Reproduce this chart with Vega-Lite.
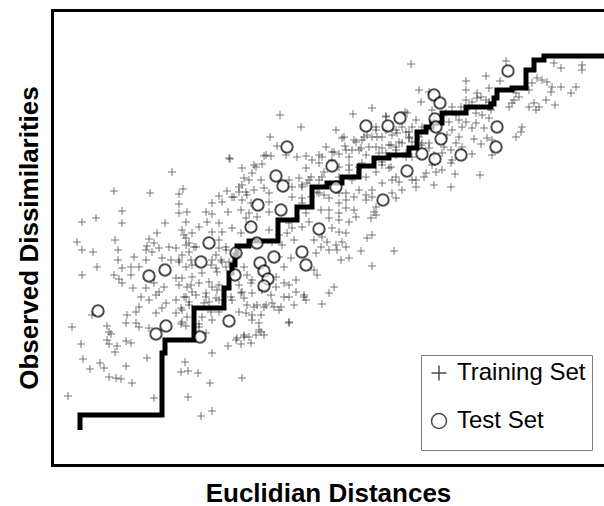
{
  "$schema": "https://vega.github.io/schema/vega-lite/v6.json",
  "width": 552,
  "height": 455,
  "autosize": {"type": "none"},
  "padding": {"left": 52, "top": 10, "right": 0, "bottom": 41},
  "background": "white",
  "config": {
    "view": {"stroke": null},
    "font": "Liberation Sans"
  },
  "datasets": {
    "train": [
      {"d":177,"o":307},
      {"d":359,"o":401},{"d":367,"o":375},{"d":369,"o":363},{"d":377,"o":373},{"d":320,"o":357},{"d":301,"o":351},{"d":334,"o":348},{"d":353,"o":353},{"d":355,"o":352},{"d":228,"o":350},{"d":249,"o":338},{"d":284,"o":335},{"d":218,"o":328},{"d":225,"o":319},{"d":292,"o":328},{"d":293,"o":319},{"d":304,"o":323},{"d":310,"o":325},{"d":315,"o":330},{"d":320,"o":328},{"d":325,"o":328},{"d":324,"o":335},{"d":334,"o":335},{"d":340,"o":330},{"d":345,"o":332},{"d":350,"o":338},{"d":354,"o":333},{"d":357,"o":328},{"d":360,"o":338},{"d":369,"o":332},{"d":374,"o":335},{"d":380,"o":338},{"d":300,"o":315},{"d":309,"o":317},{"d":317,"o":318},{"d":324,"o":318},{"d":330,"o":317},{"d":339,"o":320},{"d":344,"o":318},{"d":350,"o":322},{"d":360,"o":323},{"d":369,"o":320},{"d":377,"o":322},{"d":212,"o":309},{"d":219,"o":309},{"d":234,"o":310},{"d":245,"o":308},{"d":254,"o":309},{"d":267,"o":310},{"d":274,"o":318},{"d":282,"o":313},{"d":287,"o":311},{"d":327,"o":312},{"d":334,"o":312},{"d":344,"o":310},{"d":354,"o":312},{"d":360,"o":308},{"d":382,"o":310},
      {"d":454,"o":404},{"d":502,"o":402},{"d":509,"o":397},{"d":530,"o":400},{"d":530,"o":395},{"d":434,"o":389},{"d":414,"o":384},{"d":448,"o":384},{"d":414,"o":375},{"d":437,"o":377},{"d":425,"o":372},{"d":429,"o":368},{"d":485,"o":387},{"d":490,"o":385},{"d":495,"o":383},{"d":480,"o":382},{"d":477,"o":375},{"d":500,"o":378},{"d":509,"o":378},{"d":524,"o":378},{"d":519,"o":372},{"d":499,"o":373},{"d":464,"o":372},{"d":467,"o":368},{"d":462,"o":365},{"d":457,"o":358},{"d":460,"o":362},{"d":477,"o":358},{"d":482,"o":362},{"d":484,"o":355},{"d":487,"o":358},{"d":494,"o":365},{"d":503,"o":360},{"d":414,"o":365},{"d":420,"o":363},{"d":425,"o":367},{"d":434,"o":365},{"d":437,"o":363},{"d":400,"o":358},{"d":409,"o":358},{"d":417,"o":358},{"d":380,"o":355},{"d":394,"o":352},{"d":404,"o":350},{"d":424,"o":352},{"d":430,"o":350},{"d":437,"o":358},{"d":439,"o":355},{"d":382,"o":345},{"d":397,"o":343},{"d":407,"o":345},{"d":414,"o":343},{"d":424,"o":342},{"d":437,"o":347},{"d":400,"o":335},{"d":410,"o":338},{"d":420,"o":337},{"d":432,"o":337},{"d":470,"o":338},{"d":469,"o":333},{"d":464,"o":328},{"d":395,"o":330},{"d":407,"o":328},{"d":422,"o":326},{"d":429,"o":321},{"d":435,"o":327},{"d":440,"o":325},{"d":404,"o":322},{"d":410,"o":318},{"d":392,"o":318},{"d":399,"o":315},{"d":370,"o":322},{"d":377,"o":317},{"d":420,"o":311},{"d":440,"o":310},{"d":390,"o":312},
      {"d":399,"o":302},{"d":400,"o":305},{"d":384,"o":293},{"d":390,"o":295},{"d":403,"o":291},{"d":428,"o":290},{"d":399,"o":278},{"d":380,"o":300},
      {"d":120,"o":293},{"d":62,"o":274},{"d":98,"o":272},{"d":131,"o":276},{"d":127,"o":271},{"d":167,"o":269},{"d":175,"o":274},{"d":170,"o":263},{"d":160,"o":262},{"d":180,"o":268},{"d":70,"o":254},{"d":127,"o":261},{"d":127,"o":252},{"d":135,"o":253},{"d":154,"o":253},{"d":160,"o":251},{"d":176,"o":253},{"d":30,"o":243},{"d":44,"o":247},{"d":70,"o":242},{"d":113,"o":242},{"d":134,"o":243},{"d":147,"o":238},{"d":155,"o":243},{"d":167,"o":242},{"d":130,"o":235},{"d":140,"o":232},{"d":160,"o":233},{"d":170,"o":233},{"d":180,"o":237},{"d":105,"o":232},{"d":97,"o":226},{"d":102,"o":222},{"d":95,"o":219},{"d":134,"o":227},{"d":124,"o":217},{"d":117,"o":218},{"d":137,"o":222},{"d":144,"o":218},{"d":167,"o":225},{"d":174,"o":218},{"d":25,"o":223},{"d":63,"o":225},{"d":30,"o":215},{"d":41,"o":213},{"d":66,"o":215},{"d":94,"o":215},{"d":100,"o":213},{"d":107,"o":217},{"d":82,"o":208},{"d":66,"o":205},{"d":45,"o":198},{"d":70,"o":197},{"d":79,"o":198},{"d":87,"o":198},{"d":94,"o":205},{"d":110,"o":207},{"d":119,"o":205},{"d":127,"o":205},{"d":134,"o":198},{"d":140,"o":200},{"d":160,"o":205},{"d":169,"o":205},{"d":164,"o":197},{"d":174,"o":198},{"d":62,"o":190},{"d":67,"o":186},{"d":30,"o":190},{"d":70,"o":182},{"d":79,"o":190},{"d":81,"o":177},{"d":94,"o":177},{"d":102,"o":182},{"d":107,"o":173},{"d":112,"o":178},{"d":124,"o":187},{"d":127,"o":180},{"d":139,"o":180},{"d":147,"o":182},{"d":157,"o":183},{"d":167,"o":180},{"d":140,"o":173},{"d":134,"o":168},{"d":154,"o":168},{"d":160,"o":178},{"d":179,"o":168},{"d":89,"o":168},{"d":97,"o":165},{"d":104,"o":170},{"d":114,"o":162},{"d":124,"o":165},{"d":137,"o":160},{"d":152,"o":162},{"d":167,"o":165},{"d":87,"o":158},{"d":104,"o":152},{"d":110,"o":157},{"d":75,"o":150},{"d":84,"o":153},{"d":124,"o":152},{"d":130,"o":155},{"d":135,"o":148},{"d":167,"o":153},{"d":40,"o":150},
      {"d":20,"o":138},{"d":55,"o":139},{"d":57,"o":133},{"d":59,"o":131},{"d":74,"o":142},{"d":84,"o":142},{"d":87,"o":138},{"d":97,"o":137},{"d":29,"o":121},{"d":55,"o":125},{"d":57,"o":121},{"d":65,"o":119},{"d":74,"o":124},{"d":79,"o":122},{"d":63,"o":113},{"d":31,"o":106},{"d":48,"o":102},{"d":52,"o":97},{"d":38,"o":96},{"d":74,"o":99},{"d":95,"o":107},{"d":57,"o":88},{"d":64,"o":87},{"d":69,"o":86},{"d":80,"o":82},{"d":16,"o":69},{"d":102,"o":67},{"d":129,"o":141},{"d":134,"o":139},{"d":147,"o":141},{"d":154,"o":132},{"d":160,"o":112},{"d":176,"o":119},{"d":184,"o":125},{"d":133,"o":103},{"d":129,"o":93},{"d":136,"o":94},{"d":146,"o":92},{"d":158,"o":82},{"d":136,"o":68},{"d":149,"o":49},{"d":160,"o":54},
      {"d":207,"o":142},{"d":237,"o":142},{"d":209,"o":133},{"d":204,"o":130},{"d":212,"o":130},{"d":192,"o":128},{"d":189,"o":121},{"d":199,"o":122},{"d":190,"o":87},
      {"d":202,"o":300},{"d":210,"o":301},{"d":190,"o":297},{"d":200,"o":292},{"d":192,"o":287},{"d":209,"o":285},{"d":187,"o":278},{"d":194,"o":273},{"d":202,"o":275},{"d":212,"o":277},{"d":217,"o":272},{"d":237,"o":285},{"d":247,"o":287},{"d":240,"o":278},{"d":250,"o":280},{"d":255,"o":282},{"d":259,"o":288},{"d":267,"o":285},{"d":272,"o":293},{"d":287,"o":298},{"d":297,"o":300},{"d":307,"o":298},{"d":305,"o":290},{"d":330,"o":300},{"d":339,"o":298},{"d":340,"o":285},{"d":347,"o":283},{"d":360,"o":285},{"d":364,"o":278},{"d":372,"o":288},{"d":382,"o":280},{"d":190,"o":265},{"d":199,"o":262},{"d":217,"o":263},{"d":189,"o":255},{"d":197,"o":252},{"d":205,"o":248},{"d":217,"o":253},{"d":240,"o":268},{"d":250,"o":267},{"d":259,"o":268},{"d":265,"o":273},{"d":272,"o":270},{"d":277,"o":267},{"d":287,"o":272},{"d":294,"o":265},{"d":302,"o":268},{"d":314,"o":270},{"d":320,"o":268},{"d":324,"o":258},{"d":322,"o":253},{"d":302,"o":255},{"d":294,"o":257},{"d":287,"o":252},{"d":277,"o":255},{"d":269,"o":255},{"d":254,"o":252},{"d":244,"o":247},{"d":237,"o":242},{"d":240,"o":237},{"d":250,"o":238},{"d":257,"o":243},{"d":277,"o":247},{"d":287,"o":245},{"d":297,"o":243},{"d":304,"o":248},{"d":319,"o":247},{"d":324,"o":250},{"d":280,"o":237},{"d":287,"o":233},{"d":294,"o":232},{"d":315,"o":227},{"d":320,"o":230},{"d":194,"o":247},{"d":197,"o":240},{"d":189,"o":232},{"d":217,"o":235},{"d":227,"o":230},{"d":235,"o":232},{"d":220,"o":223},{"d":230,"o":220},{"d":242,"o":225},{"d":262,"o":225},{"d":270,"o":228},{"d":275,"o":223},{"d":284,"o":220},{"d":290,"o":223},{"d":269,"o":218},{"d":277,"o":215},{"d":285,"o":215},{"d":294,"o":218},{"d":309,"o":214},{"d":342,"o":214},{"d":297,"o":207},{"d":289,"o":205},{"d":264,"o":212},{"d":239,"o":207},{"d":232,"o":198},{"d":262,"o":195},{"d":265,"o":190},{"d":320,"o":199},{"d":227,"o":208},{"d":224,"o":188},{"d":232,"o":182},{"d":192,"o":198},{"d":195,"o":190},{"d":200,"o":185},{"d":187,"o":180},{"d":190,"o":173},{"d":200,"o":172},{"d":210,"o":175},{"d":219,"o":170},{"d":244,"o":173},{"d":252,"o":168},{"d":192,"o":167},{"d":202,"o":158},{"d":214,"o":160},{"d":222,"o":158},{"d":229,"o":158},{"d":282,"o":178},{"d":277,"o":172},{"d":270,"o":161},{"d":194,"o":152},{"d":200,"o":150},{"d":209,"o":150},
      {"d":132,"o":230},{"d":134,"o":220},{"d":142,"o":218},{"d":130,"o":210},{"d":137,"o":213},{"d":127,"o":203},{"d":139,"o":205},{"d":164,"o":210},{"d":167,"o":217},{"d":174,"o":215},{"d":170,"o":203},{"d":177,"o":203},{"d":159,"o":200},{"d":165,"o":193},{"d":150,"o":192},{"d":140,"o":188},{"d":130,"o":187},{"d":135,"o":178},{"d":165,"o":175},{"d":154,"o":172},{"d":144,"o":170},{"d":132,"o":168},{"d":137,"o":163},{"d":129,"o":157},{"d":157,"o":163},{"d":164,"o":167},{"d":159,"o":153},{"d":150,"o":148},{"d":147,"o":138},{"d":160,"o":145},{"d":130,"o":143},{"d":187,"o":153},{"d":195,"o":160},{"d":205,"o":160},{"d":180,"o":165},{"d":189,"o":172},{"d":199,"o":182},{"d":224,"o":178},{"d":237,"o":180},{"d":237,"o":168},{"d":232,"o":168},{"d":220,"o":162},{"d":212,"o":158},{"d":227,"o":155},{"d":242,"o":160},{"d":254,"o":165},{"d":237,"o":143},{"d":200,"o":145},{"d":207,"o":135},{"d":192,"o":130},{"d":185,"o":127},{"d":197,"o":128},{"d":244,"o":185},{"d":252,"o":170},
      {"d":214,"o":310},{"d":204,"o":298},{"d":178,"o":306},{"d":197,"o":285},{"d":190,"o":280},{"d":187,"o":273},{"d":182,"o":268},{"d":195,"o":270},
      {"d":290,"o":327},{"d":302,"o":325},{"d":312,"o":328},{"d":324,"o":338},{"d":334,"o":349},{"d":364,"o":345},{"d":370,"o":338},{"d":357,"o":333},{"d":344,"o":335},{"d":330,"o":328},{"d":307,"o":315},{"d":294,"o":315},{"d":280,"o":313},{"d":270,"o":308},{"d":260,"o":305},{"d":254,"o":297},{"d":267,"o":302},{"d":280,"o":305},{"d":297,"o":308},{"d":314,"o":310},{"d":337,"o":320},{"d":347,"o":323},{"d":357,"o":327},{"d":367,"o":328},{"d":344,"o":315},{"d":354,"o":308},{"d":330,"o":303},{"d":310,"o":302},{"d":297,"o":295},{"d":287,"o":288},{"d":270,"o":288},{"d":257,"o":285},{"d":250,"o":278},{"d":300,"o":285},{"d":314,"o":288},{"d":324,"o":293},{"d":337,"o":297},{"d":344,"o":288},{"d":330,"o":282},{"d":320,"o":275},{"d":307,"o":275},{"d":294,"o":272},{"d":314,"o":265},{"d":340,"o":272},{"d":350,"o":275},{"d":364,"o":285},{"d":374,"o":292},{"d":267,"o":272},{"d":250,"o":262},{"d":287,"o":262},{"d":344,"o":267}
    ],
    "test": [
      {"d":46,"o":154},{"d":97,"o":189},{"d":113,"o":195},{"d":104,"o":131},{"d":114,"o":139},{"d":148,"o":128},{"d":157,"o":222},{"d":149,"o":203},{"d":177,"o":144},{"d":184,"o":212},{"d":183,"o":190},{"d":199,"o":238},{"d":205,"o":222},{"d":206,"o":260},{"d":208,"o":202},{"d":212,"o":194},{"d":216,"o":186},{"d":212,"o":179},{"d":222,"o":208},{"d":224,"o":289},{"d":231,"o":279},{"d":229,"o":255},{"d":235,"o":318},{"d":250,"o":213},{"d":254,"o":200},{"d":267,"o":236},{"d":280,"o":299},{"d":284,"o":278},{"d":314,"o":339},{"d":336,"o":339},{"d":348,"o":347},{"d":331,"o":265},{"d":355,"o":294},{"d":370,"o":311},{"d":382,"o":370},{"d":388,"o":362},{"d":383,"o":346},{"d":384,"o":338},{"d":389,"o":326},{"d":383,"o":306},{"d":409,"o":310},{"d":445,"o":338},{"d":444,"o":318},{"d":456,"o":394}
    ],
    "fit": [
      {"d":28,"o":35},{"d":28,"o":50},{"d":110,"o":112},{"d":113,"o":125},{"d":142,"o":157},{"d":172,"o":177},{"d":177,"o":192},{"d":180,"o":200},{"d":183,"o":210},{"d":185,"o":219},{"d":197,"o":224},{"d":226,"o":245},{"d":245,"o":258},{"d":260,"o":278},{"d":275,"o":282},{"d":290,"o":288},{"d":307,"o":299},{"d":322,"o":307},{"d":337,"o":310},{"d":357,"o":317},{"d":365,"o":333},{"d":374,"o":338},{"d":380,"o":342},{"d":390,"o":352},{"d":414,"o":358},{"d":439,"o":361},{"d":442,"o":367},{"d":445,"o":375},{"d":460,"o":377},{"d":474,"o":395},{"d":482,"o":405},{"d":492,"o":409},{"d":552,"o":409}
    ]
  },
  "resolve": {"axis": {"x": "independent"}},
  "layer": [
    {
      "data": {"name": "train"},
      "mark": {"type": "point", "filled": false, "stroke": "black", "strokeWidth": 1, "strokeOpacity": 0.75, "size": 64},
      "encoding": {
        "x": {"field": "d", "type": "quantitative",
              "scale": {"domain": [0, 552], "nice": false, "zero": false},
              "axis": {"orient": "bottom", "title": "Euclidian Distances", "labels": false, "ticks": false, "grid": false,
                       "domainColor": "black", "domainWidth": 3, "domainCap": "square",
                       "titleFont": "Liberation Sans", "titleFontSize": 26, "titleFontWeight": "bold", "titleColor": "black", "titlePadding": 15}},
        "y": {"field": "o", "type": "quantitative",
              "scale": {"domain": [0, 455], "nice": false, "zero": false},
              "axis": {"orient": "left", "title": "Observed Dissimilarities", "labels": false, "ticks": false, "grid": false,
                       "domainColor": "black", "domainWidth": 3, "domainCap": "square",
                       "titleFont": "Liberation Sans", "titleFontSize": 26, "titleFontWeight": "bold", "titleColor": "black", "titlePadding": 10}},
        "shape": {"datum": "Training Set",
                  "scale": {"domain": ["Training Set", "Test Set"], "range": ["M-1,0L1,0M0,-1L0,1", "circle"]},
                  "legend": {"orient": "none", "legendX": 369, "legendY": 345,
                             "title": " ", "titleOrient": "bottom", "titleFontSize": 10, "titlePadding": 1,
                             "labelFont": "Liberation Sans", "labelFontSize": 24, "labelColor": "black",
                             "strokeColor": "#808080", "fillColor": "white",
                             "padding": 6, "rowPadding": 24, "labelOffset": 6, "symbolSize": 225,
                             "encode": {"symbols": {
                               "stroke": {"condition": {"test": "datum.value === 'Training Set'", "value": "#000000"}, "value": "#808080"},
                               "strokeOpacity": {"value": 1},
                               "opacity": {"value": 1},
                               "strokeWidth": {"condition": {"test": "datum.value === 'Training Set'", "value": 2.6}, "value": 1},
                               "size": {"condition": {"test": "datum.value === 'Training Set'", "value": 225}, "value": 75},
                               "fill": {"value": "transparent"}}}}}
      }
    },
    {
      "data": {"name": "fit"},
      "mark": {"type": "line", "interpolate": "step-after", "color": "black", "strokeWidth": 5},
      "encoding": {
        "x": {"field": "d", "type": "quantitative",
              "axis": {"orient": "top", "title": null, "labels": false, "ticks": false, "grid": false,
                       "domainColor": "black", "domainWidth": 3, "domainCap": "square"}},
        "y": {"field": "o", "type": "quantitative"}
      }
    },
    {
      "data": {"name": "test"},
      "mark": {"type": "point", "filled": true, "fill": "white", "stroke": "black", "strokeWidth": 2, "size": 130},
      "encoding": {
        "x": {"field": "d", "type": "quantitative", "axis": null},
        "y": {"field": "o", "type": "quantitative"},
        "shape": {"datum": "Test Set",
                  "legend": {"orient": "none", "legendX": 369, "legendY": 345,
                             "title": " ", "titleOrient": "bottom", "titleFontSize": 10, "titlePadding": 1,
                             "labelFont": "Liberation Sans", "labelFontSize": 24, "labelColor": "black",
                             "strokeColor": "#808080", "fillColor": "white",
                             "padding": 6, "rowPadding": 24, "labelOffset": 6, "symbolSize": 225,
                             "encode": {"symbols": {
                               "stroke": {"condition": {"test": "datum.value === 'Training Set'", "value": "#000000"}, "value": "#808080"},
                               "strokeOpacity": {"value": 1},
                               "opacity": {"value": 1},
                               "strokeWidth": {"condition": {"test": "datum.value === 'Training Set'", "value": 2.6}, "value": 1},
                               "size": {"condition": {"test": "datum.value === 'Training Set'", "value": 225}, "value": 75},
                               "fill": {"value": "transparent"}}}}}
      }
    }
  ]
}
